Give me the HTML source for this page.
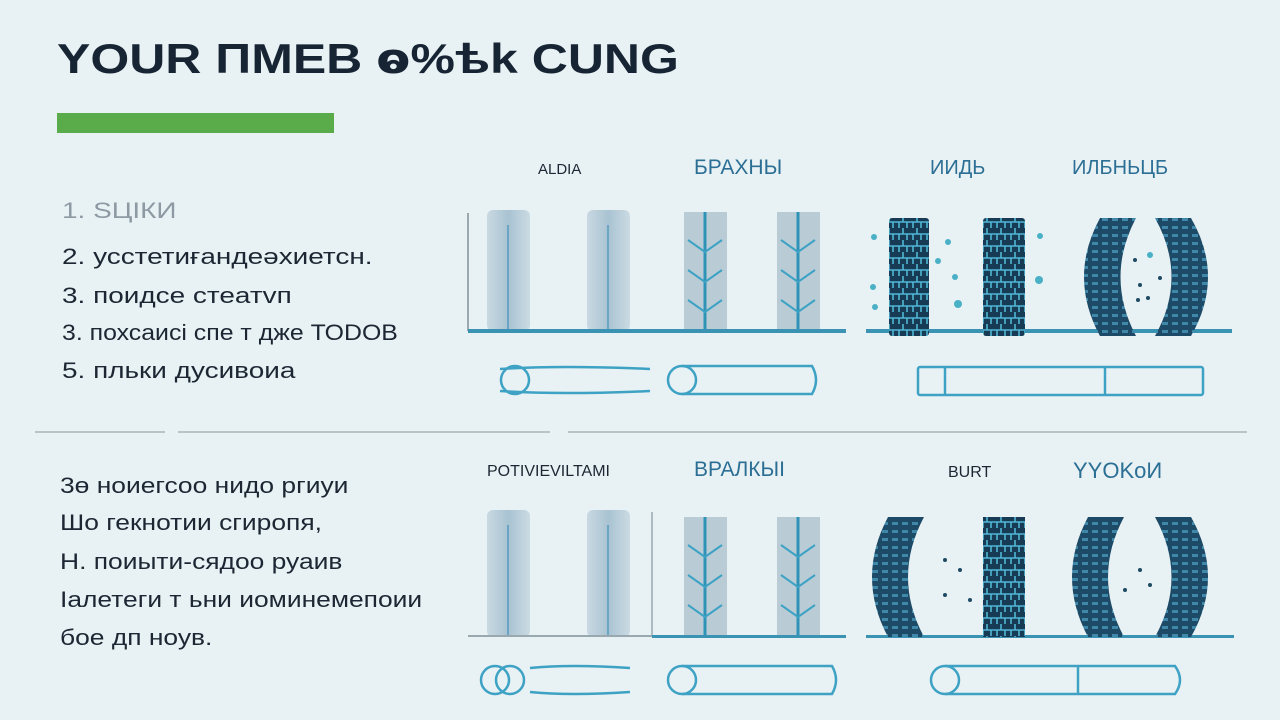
<!DOCTYPE html>
<html><head><meta charset="utf-8"><style>
html,body{margin:0;padding:0;}
body{width:1280px;height:720px;background:#e8f1f4;overflow:hidden;position:relative;font-family:"Liberation Sans","DejaVu Sans",sans-serif;}
.t{position:absolute;white-space:nowrap;color:#1c2733;transform-origin:0 0;}
.l{font-size:22px;transform:scaleX(1.27);}
.b{font-size:22px;transform:scaleX(1.2);}
</style></head><body>
<svg width="1280" height="720" style="position:absolute;left:0;top:0">
<defs>
<linearGradient id="lt" x1="0" x2="1"><stop offset="0" stop-color="#c9d9e2"/><stop offset="0.5" stop-color="#a9c3d2"/><stop offset="1" stop-color="#cbdbe3"/></linearGradient>
<pattern id="dk" width="14" height="12" patternUnits="userSpaceOnUse"><rect width="14" height="12" fill="#173b55"/><path d="M0 6H14M7 0V6M3 6V12M11 6V12" stroke="#4fb6d3" stroke-width="1.6" fill="none"/></pattern>
<pattern id="cv" width="10" height="8" patternUnits="userSpaceOnUse"><rect width="10" height="8" fill="#1d4a66"/><rect x="2" y="2" width="6" height="3" fill="#3f88aa"/></pattern>
</defs>
<rect x="57" y="113" width="277" height="20" fill="#5aab4a"/>
<g stroke="#b9c4c9" stroke-width="2"><line x1="35" y1="432" x2="165" y2="432"/><line x1="178" y1="432" x2="550" y2="432"/><line x1="568" y1="432" x2="1247" y2="432"/></g>
<line x1="468" y1="213" x2="468" y2="331" stroke="#9aa8b0" stroke-width="2"/>
<g fill="url(#lt)">
<rect x="487" y="210" width="43" height="121" rx="6"/><rect x="587" y="210" width="43" height="121" rx="6"/>
<rect x="487" y="510" width="43" height="127" rx="6"/><rect x="587" y="510" width="43" height="127" rx="6"/>
</g>
<g stroke="#6aa6c3" stroke-width="2"><line x1="508" y1="225" x2="508" y2="331"/><line x1="608" y1="225" x2="608" y2="331"/><line x1="508" y1="525" x2="508" y2="637"/><line x1="608" y1="525" x2="608" y2="637"/></g>
<g fill="#b9ccd6"><rect x="684" y="212" width="43" height="119"/><rect x="777" y="212" width="43" height="119"/><rect x="684" y="517" width="43" height="120"/><rect x="777" y="517" width="43" height="120"/></g>
<g stroke="#2f93b8" stroke-width="3"><line x1="705" y1="212" x2="705" y2="331"/><line x1="798" y1="212" x2="798" y2="331"/><line x1="705" y1="517" x2="705" y2="637"/><line x1="798" y1="517" x2="798" y2="637"/></g>
<g stroke="#3ea2c4" stroke-width="2" fill="none">
<path d="M688 240l17 12 17-12M688 270l17 12 17-12M688 300l17 12 17-12M781 240l17 12 17-12M781 270l17 12 17-12M781 300l17 12 17-12"/>
<path d="M688 545l17 12 17-12M688 575l17 12 17-12M688 605l17 12 17-12M781 545l17 12 17-12M781 575l17 12 17-12M781 605l17 12 17-12"/>
</g>
<rect x="468" y="329" width="378" height="4" fill="#3a93b3"/>
<rect x="866" y="329" width="366" height="4" fill="#3a93b3"/>
<rect x="889" y="218" width="40" height="118" rx="3" fill="url(#dk)"/>
<rect x="983" y="218" width="42" height="118" rx="3" fill="url(#dk)"/>
<path d="M1100 218h36Q1105 277 1136 336h-36Q1068 277 1100 218z" fill="url(#cv)"/>
<path d="M1155 218h36Q1225 277 1191 336h-36Q1188 277 1155 218z" fill="url(#cv)"/>
<g fill="#4ab0c6"><circle cx="874" cy="237" r="3"/><circle cx="873" cy="287" r="3"/><circle cx="875" cy="307" r="3"/><circle cx="948" cy="242" r="3"/><circle cx="938" cy="261" r="3"/><circle cx="955" cy="277" r="3"/><circle cx="958" cy="304" r="4"/><circle cx="1040" cy="236" r="3"/><circle cx="1039" cy="280" r="4"/><circle cx="1150" cy="255" r="3"/></g>
<g fill="#1f4a63"><circle cx="1135" cy="260" r="2"/><circle cx="1140" cy="285" r="2"/><circle cx="1160" cy="278" r="2"/><circle cx="1148" cy="298" r="2"/><circle cx="1138" cy="300" r="2"/></g>
<line x1="468" y1="636" x2="652" y2="636" stroke="#9aa8b0" stroke-width="2"/>
<line x1="652" y1="512" x2="652" y2="636" stroke="#9aa8b0" stroke-width="1.5"/>
<rect x="652" y="635" width="194" height="3" fill="#3a93b3"/>
<rect x="866" y="635" width="368" height="3" fill="#3a93b3"/>
<path d="M888 517h36Q892 577 924 637h-36Q856 577 888 517z" fill="url(#cv)"/>
<rect x="983" y="517" width="42" height="120" fill="url(#dk)"/>
<path d="M1088 517h36Q1092 577 1124 637h-36Q1056 577 1088 517z" fill="url(#cv)"/>
<path d="M1155 517h36Q1225 577 1191 637h-36Q1188 577 1155 517z" fill="url(#cv)"/>
<g fill="#1f4a63"><circle cx="945" cy="560" r="2"/><circle cx="960" cy="570" r="2"/><circle cx="945" cy="595" r="2"/><circle cx="970" cy="600" r="2"/><circle cx="1140" cy="570" r="2"/><circle cx="1150" cy="585" r="2"/><circle cx="1125" cy="590" r="2"/></g>
<g stroke="#3ea2c4" stroke-width="2.5" fill="none">
<circle cx="515" cy="380" r="14"/><path d="M500 369q60-4 150 0M500 391q60 4 150 0"/>
<circle cx="682" cy="380" r="14"/><path d="M682 366h130q8 14 0 28h-130"/>
<rect x="918" y="367" width="285" height="28" rx="2"/><line x1="945" y1="367" x2="945" y2="395"/><line x1="1105" y1="367" x2="1105" y2="395"/>
<circle cx="495" cy="680" r="14"/><circle cx="510" cy="680" r="14"/><path d="M530 668q40-4 100 0M530 692q40 4 100 0"/>
<circle cx="682" cy="680" r="14"/><path d="M682 666h150q8 14 0 28h-150"/>
<circle cx="945" cy="680" r="14"/><path d="M945 666h230q10 14 0 28h-230"/><line x1="1078" y1="666" x2="1078" y2="694"/>
</g>
</svg>
<div class="t" style="left:57px;top:34px;font-size:42px;font-weight:bold;color:#172433;transform:scaleX(1.19)">YOUR ПМЕВ ⱺ%ѣk CUNG</div>
<div class="t l" style="left:62px;top:198px;color:#8d9aa3">1. SЦІКИ</div>
<div class="t l" style="left:62px;top:244px">2. усстетиғандеәхиетсн.</div>
<div class="t l" style="left:62px;top:283px">3. поидсе стеатvп</div>
<div class="t l" style="left:62px;top:320px;transform:scaleX(1.13)">3. похсаисі спе т  дже ТОDОВ</div>
<div class="t l" style="left:62px;top:358px">5. пльки дусивоиа</div>
<div class="t b" style="left:60px;top:473px">3ө ноиегсоо нидо ргиуи</div>
<div class="t b" style="left:60px;top:510px">Шо гекнотии сгиропя,</div>
<div class="t b" style="left:60px;top:549px">Н. поиыти-сядоо руаив</div>
<div class="t b" style="left:60px;top:587px">Іалетеги т ьни иоминемепоии</div>
<div class="t b" style="left:60px;top:625px">бое дп ноув.</div>
<div class="t" style="left:538px;top:161px;font-size:15px">ALDIA</div>
<div class="t" style="left:694px;top:156px;font-size:21px;color:#2c6f95">БРАХНЫ</div>
<div class="t" style="left:930px;top:157px;font-size:20px;color:#2c6f95">ИИДЬ</div>
<div class="t" style="left:1072px;top:157px;font-size:20px;color:#2c6f95">ИЛБНЬЦБ</div>
<div class="t" style="left:487px;top:463px;font-size:16px">POTIVIEVILTAMI</div>
<div class="t" style="left:694px;top:458px;font-size:21px;color:#2c6f95">BPAЛКЫI</div>
<div class="t" style="left:948px;top:464px;font-size:16px">BURT</div>
<div class="t" style="left:1073px;top:458px;font-size:22px;color:#2c6f95">YYOKoИ</div>
</body></html>
